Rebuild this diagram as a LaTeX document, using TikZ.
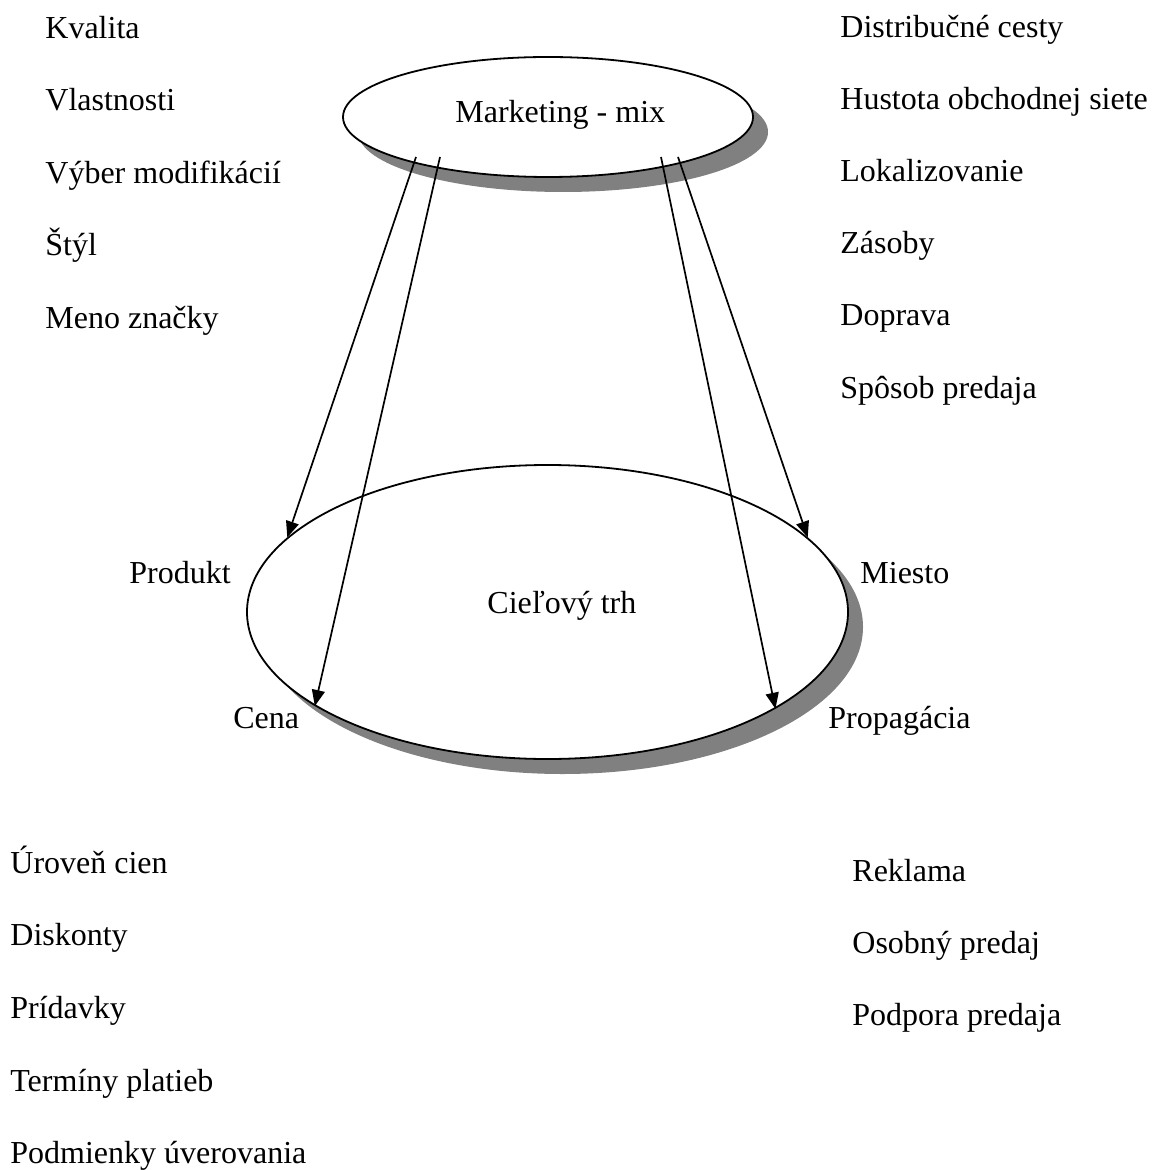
\documentclass[tikz,border=0pt]{standalone}
\usepackage{fontspec}
\setmainfont{Liberation Serif}
\usetikzlibrary{arrows.meta,shapes.geometric,shadows,calc}
\definecolor{shadowgray}{RGB}{128,128,128}
\begin{document}
\begin{tikzpicture}[x=0.5pt,y=-0.5pt,
  every node/.style={font=\fontsize{16}{19}\selectfont},
  item/.style={anchor=base west, inner sep=0pt},
  oval/.style={ellipse, draw, line width=0.9pt, fill=white, inner sep=0pt,
    drop shadow={shadow xshift=7.5pt, shadow yshift=-7.5pt, fill=shadowgray, opacity=1}},
  link/.style={line width=0.85pt, -{Triangle[length=8pt,width=6.5pt]}}
]
\useasboundingbox (0,0) rectangle (1158,1170);

% the two ovals with their shadows
\node[oval, minimum width=205pt, minimum height=60pt] (mix) at (548,117) {};
\node[oval, minimum width=300.5pt, minimum height=147pt] (market) at (547.5,612) {};

\node[item] (mixlabel) at (455,123) {Marketing - mix};
\node[item] (marketlabel) at (487,613) {Cieľový trh};

% labels around the target market
\node[item] (produkt) at (129,583) {Produkt};
\node[item] (miesto) at (860,583) {Miesto};
\node[item] (cena) at (233,728) {Cena};
\node[item] (propagacia) at (828,728) {Propagácia};

% product list
\node[item] (p1) at (45,38.5) {Kvalita};
\node[item] (p2) at (45,111) {Vlastnosti};
\node[item] (p3) at (45,183.5) {Výber modifikácií};
\node[item] (p4) at (45,256) {Štýl};
\node[item] (p5) at (45,328.5) {Meno značky};

% place list
\node[item] (m1) at (840,37.5) {Distribučné cesty};
\node[item] (m2) at (840,109.5) {Hustota obchodnej siete};
\node[item] (m3) at (840,182) {Lokalizovanie};
\node[item] (m4) at (840,254) {Zásoby};
\node[item] (m5) at (840,326) {Doprava};
\node[item] (m6) at (840,398.5) {Spôsob predaja};

% price list
\node[item] (c1) at (10,873) {Úroveň cien};
\node[item] (c2) at (10,945.5) {Diskonty};
\node[item] (c3) at (10,1018) {Prídavky};
\node[item] (c4) at (10,1091) {Termíny platieb};
\node[item] (c5) at (10,1163.5) {Podmienky úverovania};

% promotion list
\node[item] (r1) at (852,881) {Reklama};
\node[item] (r2) at (852,953) {Osobný predaj};
\node[item] (r3) at (852,1025) {Podpora predaja};

% arrows from the mix to the four elements
\coordinate (s1) at ($(mix.center)+(-132,40)$);
\coordinate (s2) at ($(mix.center)+(-108,40)$);
\coordinate (s3) at ($(mix.center)+(113,40)$);
\coordinate (s4) at ($(mix.center)+(130,40)$);
\draw[link] (s1) -- (market.164);
\draw[link] (s2) -- (market.202);
\draw[link] (s3) -- (market.337);
\draw[link] (s4) -- (market.16);
\end{tikzpicture}
\end{document}
